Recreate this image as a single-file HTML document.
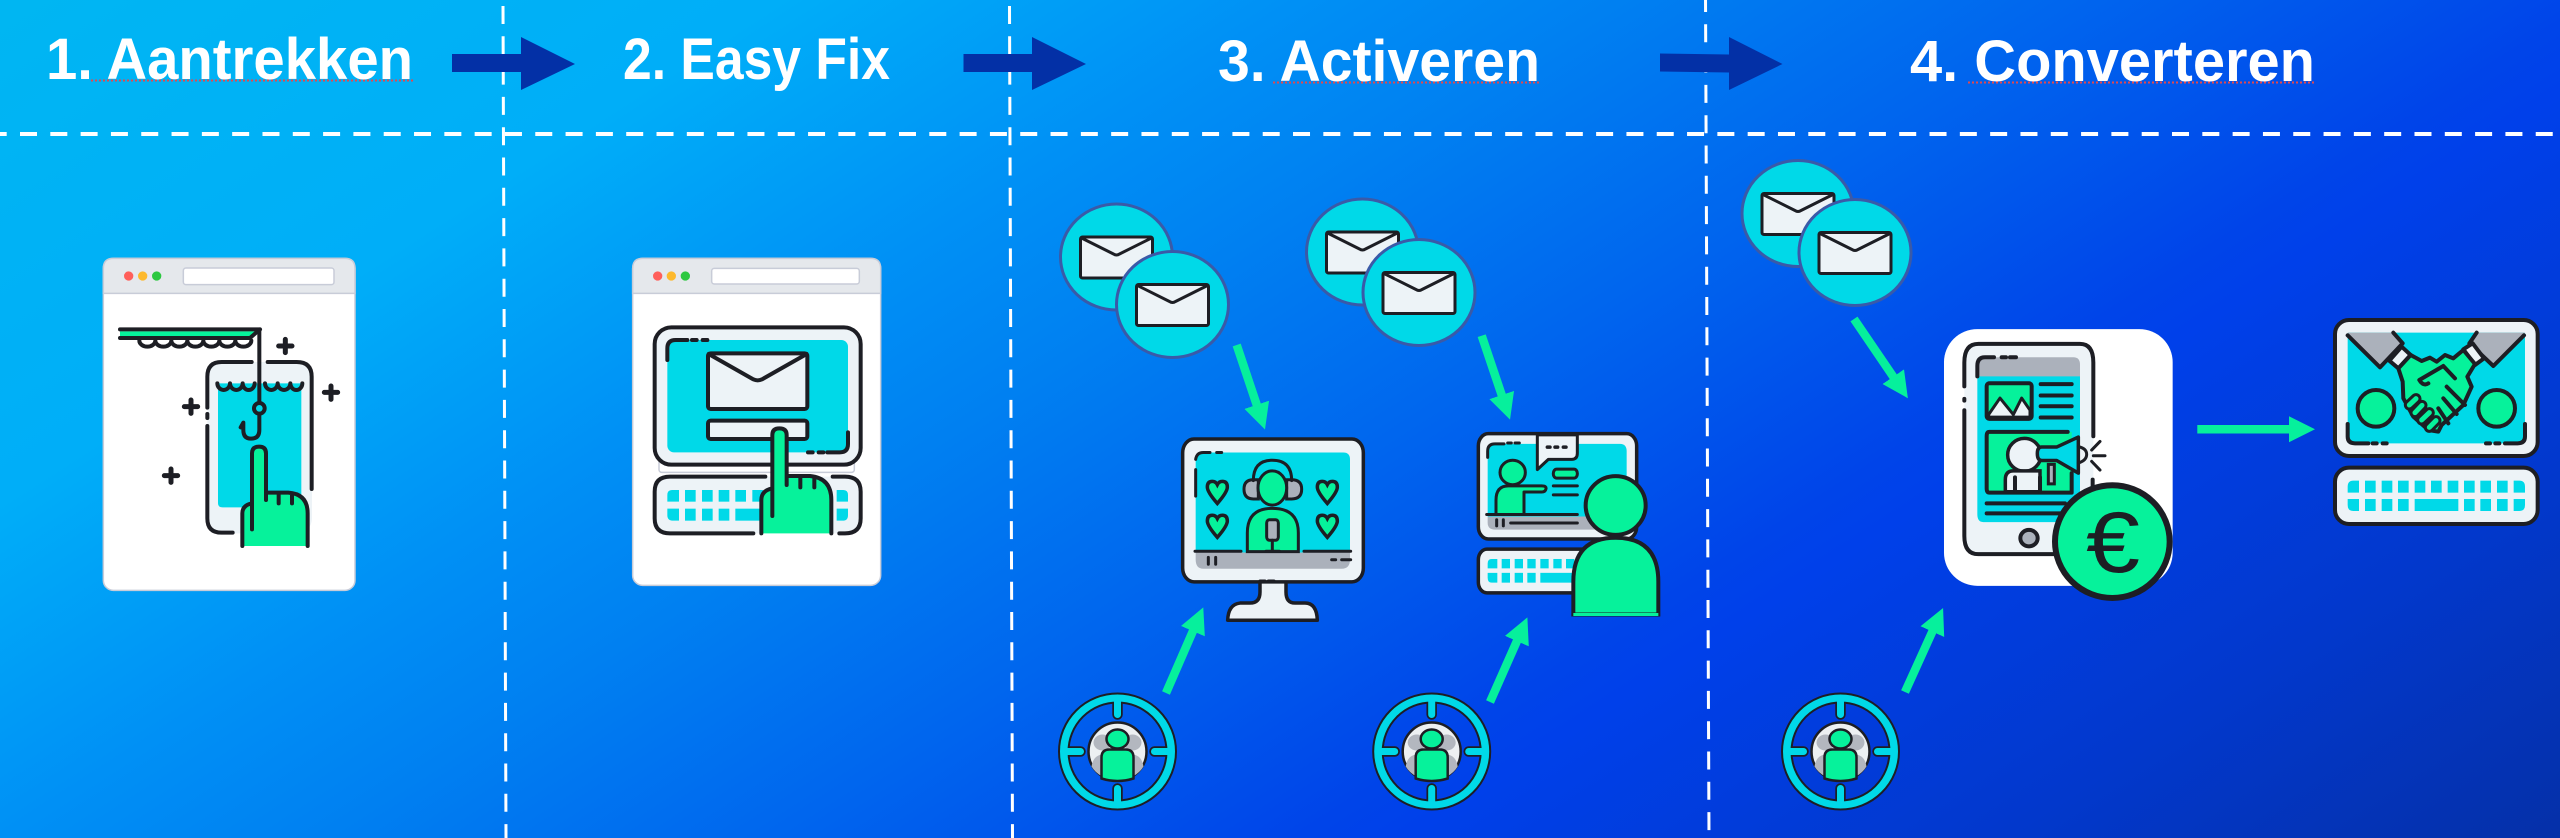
<!DOCTYPE html>
<html><head><meta charset="utf-8"><style>
html,body{margin:0;padding:0;width:2560px;height:838px;overflow:hidden}
body{background:linear-gradient(147.2deg,#00b6f2 0%,#00aef8 20.2%,#0090f5 33.7%,#0080f1 42%,#0065ee 54%,#0044e9 67.3%,#0040ea 70%,#0238cc 85.5%,#0530a8 100%)}
svg{display:block;position:absolute;left:0;top:0}
svg *{vector-effect:non-scaling-stroke}
.s{fill:none;stroke:#1d1e24;stroke-width:4;stroke-linecap:round;stroke-linejoin:round}
.l{fill:#edf3f7}.c{fill:#00d9e8}.g{fill:#06f29b}.y{fill:#abb1bb}.w{fill:#fff}
.t{font-family:"Liberation Sans",sans-serif;font-weight:700;font-size:58px;fill:#fff}
.gr{stroke:#06f09c;stroke-width:8.5;fill:none}
</style></head><body>
<svg width="2560" height="838" viewBox="0 0 2560 838" xmlns="http://www.w3.org/2000/svg">
<defs>
<marker id="mh" markerUnits="userSpaceOnUse" markerWidth="30" markerHeight="30" refX="4" refY="15" orient="auto"><path d="M0 2 L26 15 L0 28Z" fill="#06f09c"/></marker>
<path id="heart" d="M-30 -14 q0 -14 15 -14 q10 0 15 8 q5 -8 15 -8 q15 0 15 14 q0 12 -30 40 q-30 -28 -30 -40z"/>
<g id="bubble">
 <ellipse rx="56" ry="53" fill="#00d9e8" stroke="#3a5aa8" stroke-width="3"/>
 <rect x="-36" y="-20" width="72" height="41" rx="2" class="l" stroke="#1d1e24" stroke-width="3"/>
 <path d="M-35 -19 L-3 -3 Q0 -1 3 -3 L35 -19" fill="none" stroke="#1d1e24" stroke-width="3" stroke-linejoin="round"/>
</g>
<g id="target">
 <path d="M0 -50V-37M0 50V37M-50 0H-37M50 0H37" stroke="#1d1e24" stroke-width="10.5" stroke-linecap="round"/>
 <path fill-rule="evenodd" d="M-58.5 0a58.5 58 0 1 0 117 0a58.5 58 0 1 0 -117 0zM-49 0a49 49 0 1 0 98 0a49 49 0 1 0 -98 0z" fill="#00d9e8" stroke="#1d1e24" stroke-width="2"/>
 <path d="M0 -52V-37M0 52V37M-52 0H-37M52 0H37" stroke="#00d9e8" stroke-width="7" stroke-linecap="round"/>
 <circle r="29" fill="#edf0f2" stroke="#1d1e24" stroke-width="2.5"/>
 <ellipse cx="-15" cy="-9" rx="9" ry="8" fill="#b3b7bf"/><ellipse cx="15" cy="-9" rx="9" ry="8" fill="#b3b7bf"/>
 <path d="M-26 15 Q-24 3 -14 3 H14 Q24 3 26 15 Q18 28 0 28 Q-18 28 -26 15z" fill="#b3b7bf"/>
 <ellipse cy="-12.5" rx="11" ry="9.5" class="g" stroke="#1d1e24" stroke-width="2.5"/>
 <path d="M-16 27 V6 Q-16 -2 -8 -2 H8 Q16 -2 16 6 V27 Q8 29.5 0 29.5 Q-8 29.5 -16 27z" class="g" stroke="#1d1e24" stroke-width="2.5"/>
</g>
</defs>

<!-- dashed lines -->
<g fill="none" stroke="#fff">
<path d="M503 6 L506 838" stroke-width="3" stroke-dasharray="18 12.3"/>
<path d="M1009.5 6 L1012.5 838" stroke-width="3" stroke-dasharray="18 12.3"/>
<path d="M1705.5 -6 L1709 838" stroke-width="3" stroke-dasharray="18 12.3"/>
<path d="M-10.31 134 H2560" stroke-width="4" stroke-dasharray="17 13.31"/>
</g>

<!-- header text -->
<text class="t" x="46" y="79" textLength="367" lengthAdjust="spacingAndGlyphs">1. Aantrekken</text>
<text class="t" x="623" y="79" textLength="267" lengthAdjust="spacingAndGlyphs">2. Easy Fix</text>
<text class="t" x="1218" y="81" textLength="322" lengthAdjust="spacingAndGlyphs">3. Activeren</text>
<text class="t" x="1910" y="81" textLength="405" lengthAdjust="spacingAndGlyphs">4. Converteren</text>
<g stroke="#e2484f" stroke-width="2" stroke-dasharray="2 2" fill="none">
<path d="M91 80.5H413"/><path d="M1273 82.5H1541"/><path d="M1968 82.5H2315"/></g>

<!-- header arrows -->
<g fill="#0330a6">
<path d="M452 54H521V37L575 64L521 90V72H452Z"/>
<path d="M963.5 54H1032V37L1086 64L1032 90V72H963.5Z"/>
<path d="M1660 53.5L1729 54.5V37L1782.5 64L1729 90V72.5L1660 71.5Z"/>
</g>

<!-- ICON 1 -->
<g transform="translate(80,240) scale(.33333)">
 <rect x="70" y="55" width="755" height="996" rx="30" class="w" stroke="#c8ccd8" stroke-width="1.5"/>
 <path d="M70 160 V85 Q70 55 100 55 H795 Q825 55 825 85 V160Z" fill="#e5e8ec" stroke="#c8ccd8" stroke-width="1.5"/>
 <circle cx="146" cy="108" r="14" fill="#ff5f5a"/><circle cx="188" cy="108" r="14" fill="#fdb92d"/><circle cx="230" cy="108" r="14" fill="#2cc840"/>
 <rect x="310" y="84" width="452" height="50" rx="8" class="w" stroke="#c8ccd8" stroke-width="1.5"/>
 <rect x="382" y="366" width="314" height="514" rx="44" class="l"/>
 <path d="M414 430H664V790Q664 802 650 802H428Q414 802 414 790Z" class="c"/>
 <path d="M120 274H530L515 290H120Z" class="g"/>
 <path class="s" d="M120 268H540M120 294H510M178 302a24 18 0 0 0 48 0a24 18 0 0 0 48 0a24 18 0 0 0 48 0a24 18 0 0 0 48 0a24 18 0 0 0 48 0a24 18 0 0 0 48 0a24 18 0 0 0 48 0M540 268L510 294"/>
 <path class="s" d="M538 270V488M515 366H425Q382 366 382 410V503M382 522V534M382 558V835Q382 878 425 878H458M563 366H650Q695 366 695 410V747"/>
 <path class="s" d="M412 430a19 20 0 0 0 38 0a19 20 0 0 0 38 0a18 20 0 0 0 36 0M555 430a19 20 0 0 0 38 0a19 20 0 0 0 38 0a18 20 0 0 0 36 0"/>
 <circle cx="538" cy="505" r="16" fill="#00d9e8" stroke="#1d1e24" stroke-width="4"/>
 <path class="s" d="M538 522V570Q538 596 513 596Q490 596 490 570V548L482 562"/>
 <path class="g" d="M516 790V640Q516 620 537 620Q558 620 558 640V758H625Q683 762 683 820V918H487V820Q487 796 516 790Z"/>
 <path class="s" d="M516 868V640Q516 620 537 620Q558 620 558 640V780M558 758H625Q683 762 683 820V918M487 918V820Q487 796 516 790M596 760V790M636 760V790"/>
 <path class="s" d="M616 298V338M596 318H636M753 438V478M733 457H773M333 480V520M313 500H353M273 687V727M253 707H293" style="stroke-width:5"/>
</g>

<!-- ICON 2 -->
<g transform="translate(610,240) scale(.33333)">
 <rect x="68" y="55" width="744" height="981" rx="30" class="w" stroke="#c8ccd8" stroke-width="1.5"/>
 <path d="M68 160 V85 Q68 55 98 55 H782 Q812 55 812 85 V160Z" fill="#e5e8ec" stroke="#c8ccd8" stroke-width="1.5"/>
 <circle cx="143" cy="108" r="14" fill="#ff5f5a"/><circle cx="184" cy="108" r="14" fill="#fdb92d"/><circle cx="226" cy="108" r="14" fill="#2cc840"/>
 <rect x="305" y="85" width="443" height="47" rx="8" class="w" stroke="#c8ccd8" stroke-width="1.5"/>
 <rect x="147" y="660" width="586" height="37" rx="8" class="w" stroke="#c8ccd8" stroke-width="1.5"/>
 <rect x="134" y="262" width="618" height="412" rx="50" class="l" stroke="#1d1e24" stroke-width="4"/>
 <rect x="172" y="300" width="542" height="337" rx="20" class="c"/>
 <path class="s" d="M172 360V325Q172 300 197 300H232M246 300H260M278 300H292M714 577V612Q714 637 689 637H652M640 637H626M608 637H594"/>
 <rect x="294" y="340" width="298" height="167" rx="8" class="l" stroke="#1d1e24" stroke-width="4"/>
 <path class="s" d="M296 342L430 418Q443 424 456 418L590 342"/>
 <rect x="294" y="542" width="298" height="55" rx="8" class="l" stroke="#1d1e24" stroke-width="4"/>
 <rect x="134" y="710" width="618" height="170" rx="44" class="l"/>
 <g class="c">
  <path d="M172 765Q172 750 186 750H207V785H172ZM172 806H207V842H190Q172 842 172 826Z"/>
  <rect x="225" y="750" width="32" height="35"/><rect x="276" y="750" width="32" height="35"/><rect x="326" y="750" width="32" height="35"/><rect x="376" y="750" width="32" height="35"/><rect x="427" y="750" width="32" height="35"/>
  <rect x="225" y="806" width="32" height="36"/><rect x="276" y="806" width="32" height="36"/><rect x="326" y="806" width="32" height="36"/><rect x="376" y="806" width="100" height="36"/>
  <path d="M680 750H700Q714 750 714 765V785H680ZM680 806H714V826Q714 842 698 842H680Z"/>
 </g>
 <path class="s" d="M466 710H180Q134 710 134 755V835Q134 880 180 880H430M668 710H705Q752 710 752 755V835Q752 880 705 880H688"/>
 <path class="g" d="M487 745V585Q487 565 508 565Q530 565 530 585V708H600Q664 714 664 780V880H454V780Q454 752 487 745Z"/>
 <path class="s" d="M487 828V585Q487 565 508 565Q530 565 530 585V735M530 708H600Q664 714 664 780V880M454 880V780Q454 752 487 745M571 712V742M613 712V742"/>
</g>

<!-- Bubbles -->
<use href="#bubble" x="1116.5" y="257"/><use href="#bubble" x="1172.5" y="304.5"/>
<use href="#bubble" x="1362.5" y="252"/><use href="#bubble" x="1419" y="292.5"/>
<use href="#bubble" x="1798" y="213.5"/><use href="#bubble" x="1855" y="252.5"/>

<!-- Targets -->
<use href="#target" x="1117.5" y="751.5"/><use href="#target" x="1431.7" y="751.5"/><use href="#target" x="1840.5" y="751.5"/>

<!-- Green arrows -->
<g class="gr">
<path d="M1236.7 345L1258 408.6" marker-end="url(#mh)"/>
<path d="M1166 693L1194.5 627.5" marker-end="url(#mh)"/>
<path d="M1481.7 335.7L1503 398.8" marker-end="url(#mh)"/>
<path d="M1490 702L1518.5 637.5" marker-end="url(#mh)"/>
<path d="M1854 319L1895.5 380" marker-end="url(#mh)"/>
<path d="M1905 692L1934 628" marker-end="url(#mh)"/>
<path d="M2197.3 429.3H2293" marker-end="url(#mh)"/>
</g>

<!-- Monitor A -->
<g transform="translate(1040,190) scale(.33333,.40816)">
 <path class="l" stroke="#1d1e24" stroke-width="3.5" stroke-linejoin="round" d="M660 958V985Q660 1012 630 1012H600Q565 1015 563 1054H832Q830 1012 795 1012H765Q738 1012 738 985V958Z"/>
 <rect x="428" y="610" width="542" height="350" rx="34" class="l" stroke="#1d1e24" stroke-width="3.5"/>
 <path class="c" d="M467 888V660Q467 643 490 643H910Q930 643 930 660V888Z"/>
 <path class="y" d="M467 888H930V905Q930 928 905 928H490Q467 928 467 905Z"/>
 <path class="s" style="stroke-width:3" d="M467 660Q470 643 490 643H510M530 643H545M467 685V750M465 885H603M792 885H932M505 900V917M527 900V917M875 906H887M905 906H932M660 958H675M685 958H702"/>
 <g fill="#06f29b" stroke="#1d1e24" stroke-width="3.5">
  <use href="#heart" x="532" y="742"/><use href="#heart" x="862" y="742"/><use href="#heart" x="532" y="825"/><use href="#heart" x="862" y="825"/>
 </g>
 <path class="y" stroke="#1d1e24" stroke-width="3" d="M655 710H640Q612 710 612 733Q612 757 640 757H655ZM740 710H755Q785 710 785 733Q785 757 755 757H740Z"/>
 <path class="s" style="stroke-width:3" d="M640 712Q640 662 697 662Q755 662 755 712"/>
 <ellipse cx="697" cy="730" rx="43" ry="42" class="g" stroke="#1d1e24" stroke-width="3"/>
 <path class="g" stroke="#1d1e24" stroke-width="3" d="M622 886V840Q622 780 697 780Q775 780 775 840V886Z"/>
 <rect x="680" y="808" width="35" height="50" rx="8" class="y" stroke="#1d1e24" stroke-width="3"/>
 <path class="s" style="stroke-width:3" d="M697 858V885M678 885H718"/>
</g>

<!-- Monitor B -->
<g transform="translate(1340,190) scale(.33333,.40816)">
 <rect x="415" y="597" width="475" height="258" rx="30" class="l" stroke="#1d1e24" stroke-width="3.5"/>
 <path class="c" d="M443 800V640Q443 622 465 622H840Q860 622 860 640V800Z"/>
 <path class="y" d="M443 800H770V832H465Q443 832 443 815Z"/>
 <path class="s" style="stroke-width:3" d="M443 655V640Q443 622 465 622H492M503 620H514M525 620H538M440 795H712M470 808V823M490 808V823M512 816H712"/>
 <path class="l" stroke="#1d1e24" stroke-width="3" stroke-linejoin="round" d="M592 600H712V645Q712 660 695 660H625L592 685Z"/>
 <path d="M622 630H630M645 630H653M670 630H678" class="s" style="stroke-width:3.5"/>
 <ellipse cx="518" cy="692" rx="38" ry="30" class="g" stroke="#1d1e24" stroke-width="3"/>
 <path class="g" stroke="#1d1e24" stroke-width="3" stroke-linejoin="round" d="M468 795V760Q468 725 505 725H605Q620 725 618 732Q616 740 605 740H552V795Z"/>
 <rect x="640" y="684" width="72" height="22" rx="10" class="g" stroke="#1d1e24" stroke-width="3"/>
 <path class="s" style="stroke-width:3" d="M640 725H712M640 747H712"/>
 <rect x="415" y="880" width="340" height="107" rx="26" class="l" stroke="#1d1e24" stroke-width="3.5"/>
 <g class="c">
  <path d="M443 917V915Q443 904 455 904H472V927H443ZM443 938H472V962H455Q443 962 443 950Z"/>
  <rect x="485" y="904" width="25" height="23"/><rect x="524" y="904" width="25" height="23"/><rect x="562" y="904" width="25" height="23"/><rect x="601" y="904" width="25" height="23"/><rect x="640" y="904" width="25" height="23"/><rect x="678" y="904" width="25" height="23"/>
  <rect x="485" y="938" width="25" height="24"/><rect x="524" y="938" width="25" height="24"/><rect x="562" y="938" width="25" height="24"/><rect x="601" y="938" width="110" height="24"/>
 </g>
 <ellipse cx="827" cy="773" rx="90" ry="72" class="g" stroke="#1d1e24" stroke-width="4"/>
 <path class="g" stroke="#1d1e24" stroke-width="4" d="M700 1040V960Q700 852 827 852Q955 852 955 960V1040Z"/>
 <path d="M700 1040H955" stroke="#06f29b" stroke-width="3"/>
</g>

<!-- Tablet -->
<g transform="translate(1720,150) scale(.33333,.43365)">
 <rect x="672" y="413" width="686" height="592" rx="100" ry="76" class="w"/>
 <rect x="733" y="447" width="387" height="485" rx="42" ry="32" class="l"/>
 <path class="c" d="M772 520H1080V840Q1080 858 1060 858H790Q772 858 772 840Z"/>
 <path class="y" d="M772 522V495Q772 478 795 478H1060Q1080 478 1080 495V522Z"/>
 <path class="s" d="M1003 932H775Q733 932 733 890V600M733 574V578M733 545V490Q733 447 775 447H1080Q1120 447 1120 490V660M1118 760V780M772 522V498Q772 478 795 478H822M845 478H858M870 478H888"/>
 <rect x="800" y="538" width="135" height="82" rx="8" ry="6" class="g"/>
 <path d="M806 610L840 572L880 610L905 572L930 600V616H806Z" class="l" stroke="#1d1e24" stroke-width="3" stroke-linejoin="round"/>
 <rect x="800" y="538" width="135" height="82" rx="8" ry="6" class="s"/>
 <path class="s" d="M962 540H1055M962 566H1055M962 591H1055M962 617H1055"/>
 <path class="g" d="M800 650H1055V790H800Z"/>
 <path class="s" d="M1043 650H808Q800 650 800 660V780Q800 790 808 790H1055V745"/>
 <ellipse cx="913" cy="703" rx="50" ry="38" class="l" stroke="#1d1e24" stroke-width="3.5"/>
 <path class="l" stroke="#1d1e24" stroke-width="3.5" d="M856 788V760Q856 740 880 740H960V788Z"/>
 <path class="s" d="M885 755V786M960 755V786"/>
 <path class="c" stroke="#1d1e24" stroke-width="3.5" stroke-linejoin="round" d="M965 685H1010L1075 662V745L1010 716H965Q952 716 952 700Q952 685 965 685Z"/>
 <path class="y" stroke="#1d1e24" stroke-width="3" d="M985 725H1003V770H985Z"/>
 <path class="s" style="stroke-width:3" d="M1075 684Q1100 688 1100 702Q1100 716 1075 722M1115 692L1140 672M1120 705H1155M1115 718L1140 738"/>
 <path class="s" d="M800 815H1035M800 838H1030"/>
 <ellipse cx="927" cy="895" rx="26" ry="19" class="y" stroke="#1d1e24" stroke-width="4"/>
 <ellipse cx="1177" cy="903" rx="172" ry="130" class="g" stroke="#1d1e24" stroke-width="6"/>
</g>
<text x="2086" y="572" textLength="54" lengthAdjust="spacingAndGlyphs" font-family="'Liberation Sans',sans-serif" font-size="86" fill="#1d1e24">€</text>

<!-- Handshake -->
<g transform="translate(2180,290) scale(.33333)">
 <rect x="465" y="90" width="608" height="408" rx="42" class="l" stroke="#1d1e24" stroke-width="4"/>
 <rect x="503" y="128" width="532" height="332" rx="4" class="c"/>
 <path class="y" d="M503 128H640L668 160L600 232Z"/>
 <path class="y" d="M1035 128H890L868 160L940 228Z"/>
 <path class="s" d="M503 136L600 232L668 160L640 128M1032 136L940 228L868 160L890 128"/>
 <path class="l" stroke="#1d1e24" stroke-width="4" stroke-linejoin="round" d="M628 212L665 170L692 195L655 235Z"/>
 <path class="l" stroke="#1d1e24" stroke-width="4" stroke-linejoin="round" d="M850 178L878 160L912 205L885 225Z"/>
 <path class="g" stroke="#1d1e24" stroke-width="4" stroke-linejoin="round" d="M655 235L692 195L725 213L750 203L770 215L795 195L820 205L850 180L885 222L862 260L875 290L850 345L785 405L775 425L745 420L700 380L670 325L668 275Z"/>
 <path class="s" d="M718 270L790 228M718 270Q730 290 745 280M790 228L825 265M800 290L855 345M790 325L830 372M775 355L805 400"/>
 <g stroke-linecap="round">
  <path d="M688 345L708 326M705 368L726 346M725 390L748 368M748 412L768 392" stroke="#1d1e24" stroke-width="11"/>
  <path d="M688 345L708 326M705 368L726 346M725 390L748 368M748 412L768 392" stroke="#06f29b" stroke-width="5"/>
 </g>
 <circle cx="588" cy="355" r="55" class="g" stroke="#1d1e24" stroke-width="4"/>
 <circle cx="950" cy="355" r="55" class="g" stroke="#1d1e24" stroke-width="4"/>
 <path class="s" d="M503 402V440Q503 460 525 460H565M578 460H590M608 460H620M1035 402V440Q1035 460 1013 460H975M958 460H946M930 460H918"/>
 <rect x="465" y="533" width="608" height="169" rx="42" class="l" stroke="#1d1e24" stroke-width="4"/>
 <g class="c">
  <path d="M503 590Q503 572 520 572H537V608H503ZM503 627H537V663H520Q503 663 503 645Z"/>
  <rect x="555" y="572" width="32" height="36"/><rect x="605" y="572" width="32" height="36"/><rect x="654" y="572" width="32" height="36"/><rect x="704" y="572" width="32" height="36"/><rect x="753" y="572" width="32" height="36"/><rect x="803" y="572" width="32" height="36"/><rect x="852" y="572" width="32" height="36"/><rect x="901" y="572" width="32" height="36"/><rect x="951" y="572" width="32" height="36"/>
  <path d="M1001 572H1018Q1035 572 1035 590V608H1001ZM1001 627H1035V645Q1035 663 1018 663H1001Z"/>
  <rect x="555" y="627" width="32" height="36"/><rect x="605" y="627" width="32" height="36"/><rect x="654" y="627" width="32" height="36"/><rect x="704" y="627" width="131" height="36"/><rect x="852" y="627" width="32" height="36"/><rect x="901" y="627" width="32" height="36"/><rect x="951" y="627" width="32" height="36"/>
 </g>
</g>
</svg>
</body></html>
